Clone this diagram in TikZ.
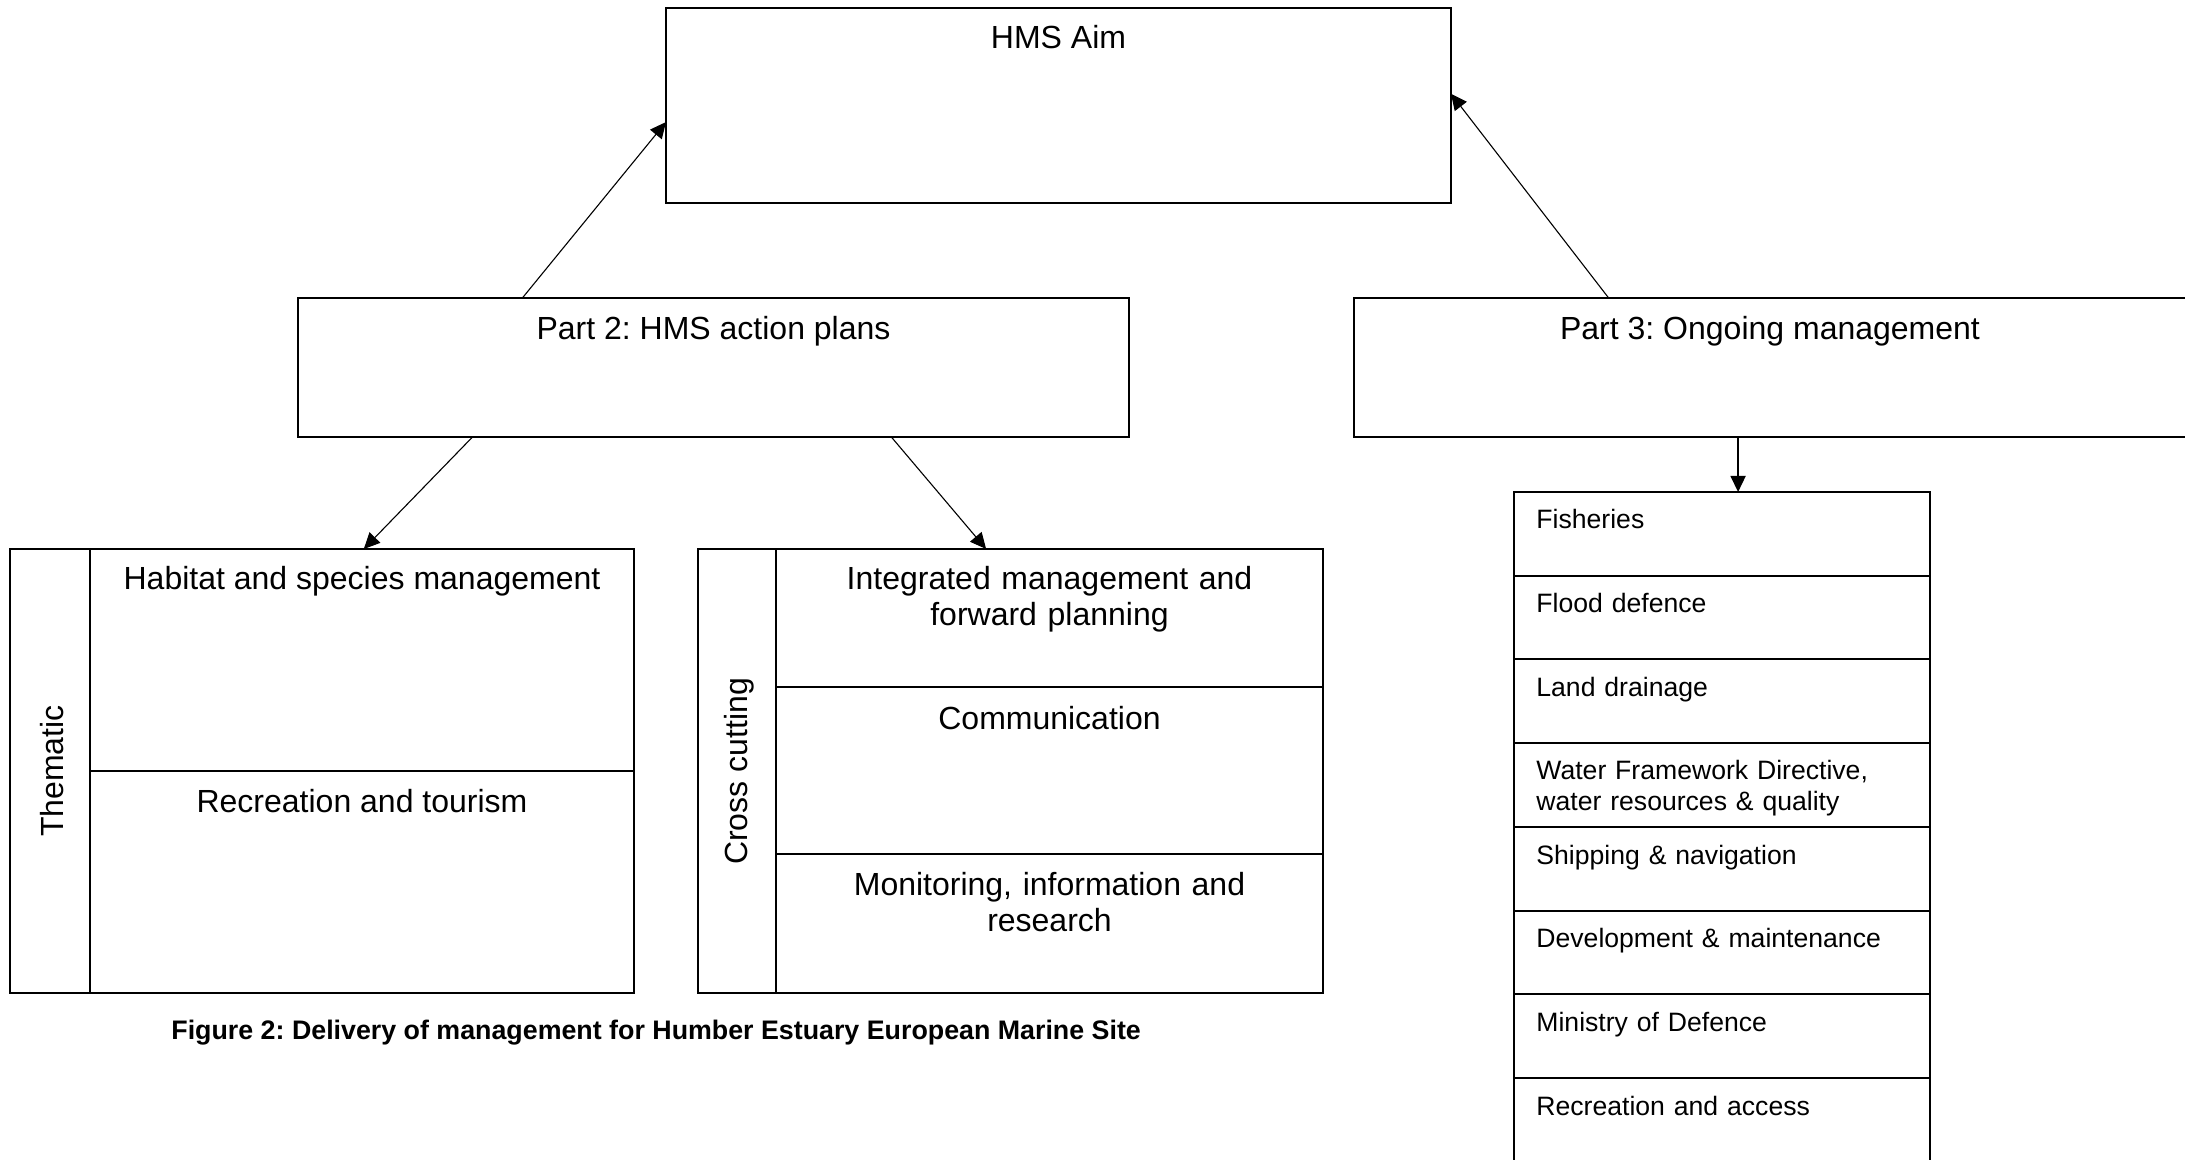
\documentclass[tikz,border=0pt]{standalone}
\usepackage{fontspec}
\setmainfont{Liberation Sans}
\frenchspacing
\usetikzlibrary{arrows.meta,calc}
\tikzset{
  box/.style={draw, line width=1pt, anchor=north west, inner sep=0pt, outer sep=0pt},
  divline/.style={line width=1pt},
  conn/.style={line width=0.55pt, -{Triangle[length=8pt,width=7.5pt]}},
  maintext/.style={font=\fontsize{16}{18}\selectfont\frenchspacing, anchor=base, inner sep=0pt, align=center},
  multitext/.style={font=\fontsize{16}{18}\selectfont\frenchspacing, anchor=base, inner sep=0pt, align=center, text width=260pt},
  sidetext/.style={font=\fontsize{16}{18}\selectfont, rotate=90, inner sep=0pt},
  listtext/.style={font=\fontsize{13.3}{15.5}\selectfont\frenchspacing, anchor=base west, inner sep=0pt, align=left, text width=190pt},
  captext/.style={font=\fontsize{13.4}{15}\selectfont\bfseries\frenchspacing, anchor=base west, inner sep=0pt}
}
\begin{document}
\begin{tikzpicture}[x=0.5pt,y=-0.5pt]
\useasboundingbox (0,0) rectangle (2185,1160);
\clip (0,0) rectangle (2185,1160);
% top boxes
\node[box, minimum width=392.5pt, minimum height=97.5pt] (aim) at (666,8) {};
\node[box, minimum width=415.5pt, minimum height=69.5pt] (p2) at (298,298) {};
\node[box, minimum width=423pt, minimum height=69.5pt] (p3) at (1354,298) {};
\node[maintext] (aimtxt) at (1058.5,49) {HMS Aim};
\node[maintext] (p2txt) at (713.5,340) {Part 2: HMS action plans};
\node[maintext] (p3txt) at (1770,340) {Part 3: Ongoing management};
% thematic box
\node[box, minimum width=312pt, minimum height=222pt] (them) at (10,549) {};
\draw[divline] ([xshift=40pt]them.north west) -- ([xshift=40pt]them.south west);
\draw[divline] ([xshift=40pt,yshift=-111pt]them.north west) -- ([yshift=-111pt]them.north east);
\node[sidetext] (themlbl) at (52,771) {Thematic};
\node[maintext] (habtxt) at (362,589) {Habitat and species management};
\node[maintext] (rectxt) at (362,812) {Recreation and tourism};
% cross cutting box
\node[box, minimum width=312.5pt, minimum height=222pt] (cross) at (698,549) {};
\draw[divline] ([xshift=39pt]cross.north west) -- ([xshift=39pt]cross.south west);
\draw[divline] ([xshift=39pt,yshift=-69pt]cross.north west) -- ([yshift=-69pt]cross.north east);
\draw[divline] ([xshift=39pt,yshift=-152.5pt]cross.north west) -- ([yshift=-152.5pt]cross.north east);
\node[sidetext] (crosslbl) at (739,771.5) {Cross cutting};
\node[multitext] (inttxt) at (1049.5,589) {Integrated management and\\forward planning};
\node[maintext] (comtxt) at (1049.5,729) {Communication};
\node[multitext] (montxt) at (1049.5,895) {Monitoring, information and\\research};
% list box
\node[box, minimum width=208pt, minimum height=360pt] (list) at (1514,492) {};
\foreach \k in {1,...,7} {
  \draw[divline] ([yshift=-\k*41.85pt]list.north west) -- ([yshift=-\k*41.85pt]list.north east);
}
\node[listtext] (l1) at (1536,529) {Fisheries};
\node[listtext] (l2) at (1536,612.7) {Flood defence};
\node[listtext] (l3) at (1536,696.4) {Land drainage};
\node[listtext] (l4) at (1536,779) {Water Framework Directive,\\water resources \& quality};
\node[listtext] (l5) at (1536,864) {Shipping \& navigation};
\node[listtext] (l6) at (1536,947.5) {Development \& maintenance};
\node[listtext] (l7) at (1536,1031) {Ministry of Defence};
\node[listtext] (l8) at (1536,1115) {Recreation and access};
% caption
\node[captext] (cap) at (171,1039) {Figure 2: Delivery of management for Humber Estuary European Marine Site};
% connectors
\draw[conn] ($(p2.north west)!0.27!(p2.north east)$) -- ($(aim.north west)!0.585!(aim.south west)$);
\draw[conn] ($(p3.north west)!0.301!(p3.north east)$) -- ($(aim.north east)!0.44!(aim.south east)$);
\draw[conn] ($(p2.south west)!0.21!(p2.south east)$) -- ($(them.north west)!0.567!(them.north east)$);
\draw[conn] ($(p2.south west)!0.714!(p2.south east)$) -- ($(cross.north west)!0.461!(cross.north east)$);
\coordinate (p3out) at ($(p3.south west)!0.454!(p3.south east)$);
\draw[conn, line width=0.8pt] (p3out) -- (p3out |- list.north);
\end{tikzpicture}
\end{document}
